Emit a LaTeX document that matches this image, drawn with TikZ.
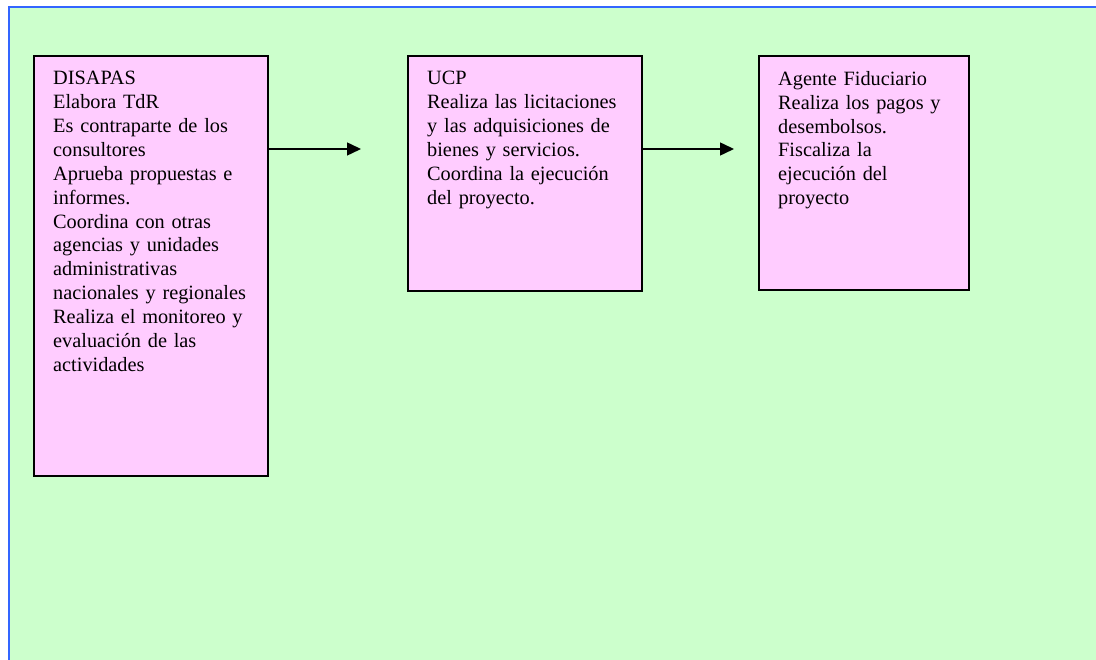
\documentclass[tikz,border=0pt]{standalone}
\usepackage{fontspec}
\setmainfont{Liberation Serif}
\usetikzlibrary{arrows.meta}
\definecolor{bggreen}{HTML}{CCFFCC}
\definecolor{bgblue}{HTML}{3366FF}
\definecolor{boxpink}{HTML}{FFCCFF}
\begin{document}
\begin{tikzpicture}[x=1pt,y=-1pt,
  box/.style={draw=black,line width=1.6pt,fill=boxpink,rectangle,inner sep=0pt,anchor=north west},
  txt/.style={anchor=north west,inner sep=0pt,align=left,text width=215pt,
    font=\fontsize{20.3}{23.9}\selectfont},
  conn/.style={line width=1.5pt,-{Triangle[length=14pt,width=13pt]}}]
\useasboundingbox (0,0) rectangle (1096,660);
\fill[white] (0,0) rectangle (1096,660);
\fill[bggreen] (9,7) rectangle (1100,664);
\draw[bgblue,line width=2pt] (9,664) -- (9,7) -- (1100,7);
\node[box,minimum width=234pt,minimum height=420pt] (b1) at (33,55) {};
\node[box,minimum width=234pt,minimum height=235pt] (b2) at (407,55) {};
\node[box,minimum width=210pt,minimum height=234pt] (b3) at (758,55) {};
\node[txt] (t1) at (53,71) {DISAPAS\\Elabora TdR\\Es contraparte de los\\consultores\\Aprueba propuestas e\\informes.\\Coordina con otras\\agencias y unidades\\administrativas\\nacionales y regionales\\Realiza el monitoreo y\\evaluación de las\\actividades};
\node[txt] (t2) at (427,71) {UCP\\Realiza las licitaciones\\y las adquisiciones de\\bienes y servicios.\\Coordina la ejecución\\del proyecto.};
\node[txt] (t3) at (778,71) {Agente Fiduciario\\Realiza los pagos y\\desembolsos.\\Fiscaliza la\\ejecución del\\proyecto};
\coordinate (a1) at (361,149);
\coordinate (a2) at (734,149);
\draw[conn] (a1 -| b1.east) -- (a1);
\draw[conn] (a2 -| b2.east) -- (a2);
\end{tikzpicture}
\end{document}
